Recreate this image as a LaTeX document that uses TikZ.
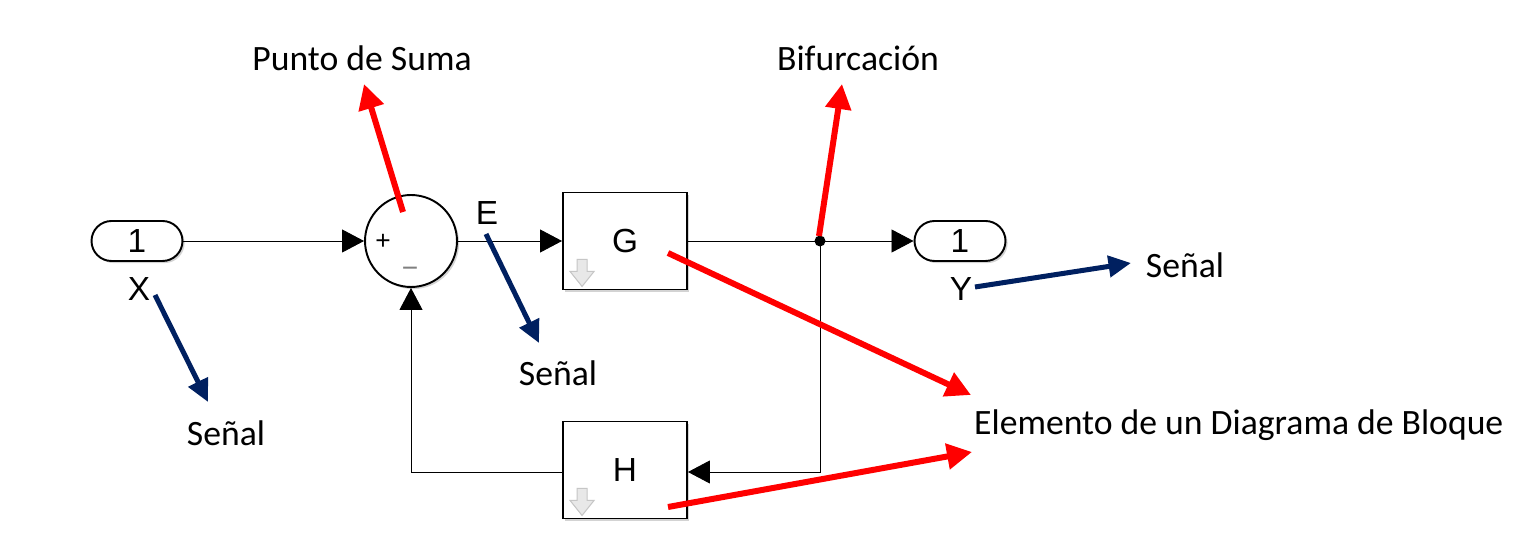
\documentclass[tikz,border=0pt]{standalone}
\usepackage{fontspec}
\setmainfont{Carlito}
\newfontfamily\arialf{Liberation Sans}
\usetikzlibrary{arrows.meta,shadows}
\definecolor{navy}{HTML}{002060}
\definecolor{annred}{HTML}{FF0000}
\begin{document}
\begin{tikzpicture}[x=0.02cm,y=-0.02cm,
  shad/.style={drop shadow={shadow xshift=1.2pt,shadow yshift=-1.2pt,opacity=0.35,fill=gray}},
  port/.style={draw,line width=1.1pt,rounded corners=0.4cm,minimum width=1.82cm,minimum height=0.8cm,inner sep=0pt,fill=white,shad,font=\arialf\fontsize{19}{19}\selectfont},
  sumc/.style={draw,circle,line width=1.1pt,minimum size=1.84cm,inner sep=0pt,fill=white,shad},
  blk/.style={draw,line width=1.1pt,minimum width=2.48cm,minimum height=1.94cm,inner sep=0pt,fill=white,shad,font=\arialf\fontsize{19}{19}\selectfont},
  slab/.style={font=\arialf\fontsize{19}{19}\selectfont},
  sig/.style={line width=0.5pt,-{Triangle[length=0.44cm,width=0.46cm]}},
  wire/.style={line width=0.5pt},
  ann/.style={font=\fontsize{20.3}{24}\selectfont},
  redarr/.style={draw=annred,line width=0.12cm,-{Triangle[length=0.5cm,width=0.5cm]}},
  bluearr/.style={draw=navy,line width=0.1cm,-{Triangle[length=0.45cm,width=0.42cm]}},
  icon/.style={draw=gray!45,fill=gray!18,line width=0.6pt}
]
\useasboundingbox (0,0) rectangle (1529,550);

% blocks
\node[port] (X) at (137,241) {1};
\node[port] (Y) at (960,241) {1};
\node[sumc] (S) at (411,241) {};
\node[blk] (G) at (625,241) {G};
\node[blk] (H) at (625,470) {H};

\node[font=\arialf\fontsize{15}{15}\selectfont] (plus) at (383,242) {+};
\node[font=\arialf\fontsize{16}{16}\selectfont,text=gray] (minus) at (410,272) {−};

% icons
\foreach \b in {G,H}{
  \path[icon] (\b.south west) ++(15,-31) -- ++(10,0) -- ++(0,12) -- ++(7,0)
    -- ++(-12,15) -- ++(-12,-15) -- ++(7,0) -- cycle;
}

% labels
\node[slab] (lX) at (139,289) {X};
\node[slab] (lY) at (961,289) {Y};
\node[slab] (lE) at (487,213) {E};

% connectors
\coordinate (B) at (820,241);
\draw[sig] (X.east) -- (S.west);
\draw[sig] (S.east) -- (G.west);
\draw[wire] (G.east) -- (B);
\draw[sig] (B) -- (Y.west);
\draw[sig] (B) |- ([yshift=-0.04cm]H.east);
\draw[sig] ([yshift=-0.04cm]H.west) -| (S.south);
\fill (B) circle (5.5);

% annotations
\node[ann] (tPS) at (362,58) {Punto de Suma};
\node[ann] (tBif) at (858,58) {Bifurcación};
\node[ann,anchor=west] (tEl) at (968,425) {Elemento de un Diagrama de Bloque};
\node[ann] (tS1) at (226,433) {Señal};
\node[ann] (tS2) at (558,373) {Señal};
\node[ann] (tS3) at (1185,265) {Señal};

\coordinate (aPS) at (403,212);
\coordinate (hPS) at (364,84);
\coordinate (aBif) at (819,236);
\coordinate (hBif) at (842,84);
\coordinate (aG) at (668,253);
\coordinate (hG) at (971,395);
\coordinate (aH) at (668,507);
\coordinate (hH) at (972,452);
\draw[redarr] (aPS) -- (hPS);
\draw[redarr] (aBif) -- (hBif);
\draw[redarr] (aG) -- (hG);
\draw[redarr] (aH) -- (hH);

\coordinate (b1a) at (155,295);
\coordinate (b1h) at (208,402);
\coordinate (b2a) at (486,234);
\coordinate (b2h) at (539,343);
\coordinate (b3a) at (975,287);
\coordinate (b3h) at (1131,263);
\draw[bluearr] (b1a) -- (b1h);
\draw[bluearr] (b2a) -- (b2h);
\draw[bluearr] (b3a) -- (b3h);
\end{tikzpicture}
\end{document}
